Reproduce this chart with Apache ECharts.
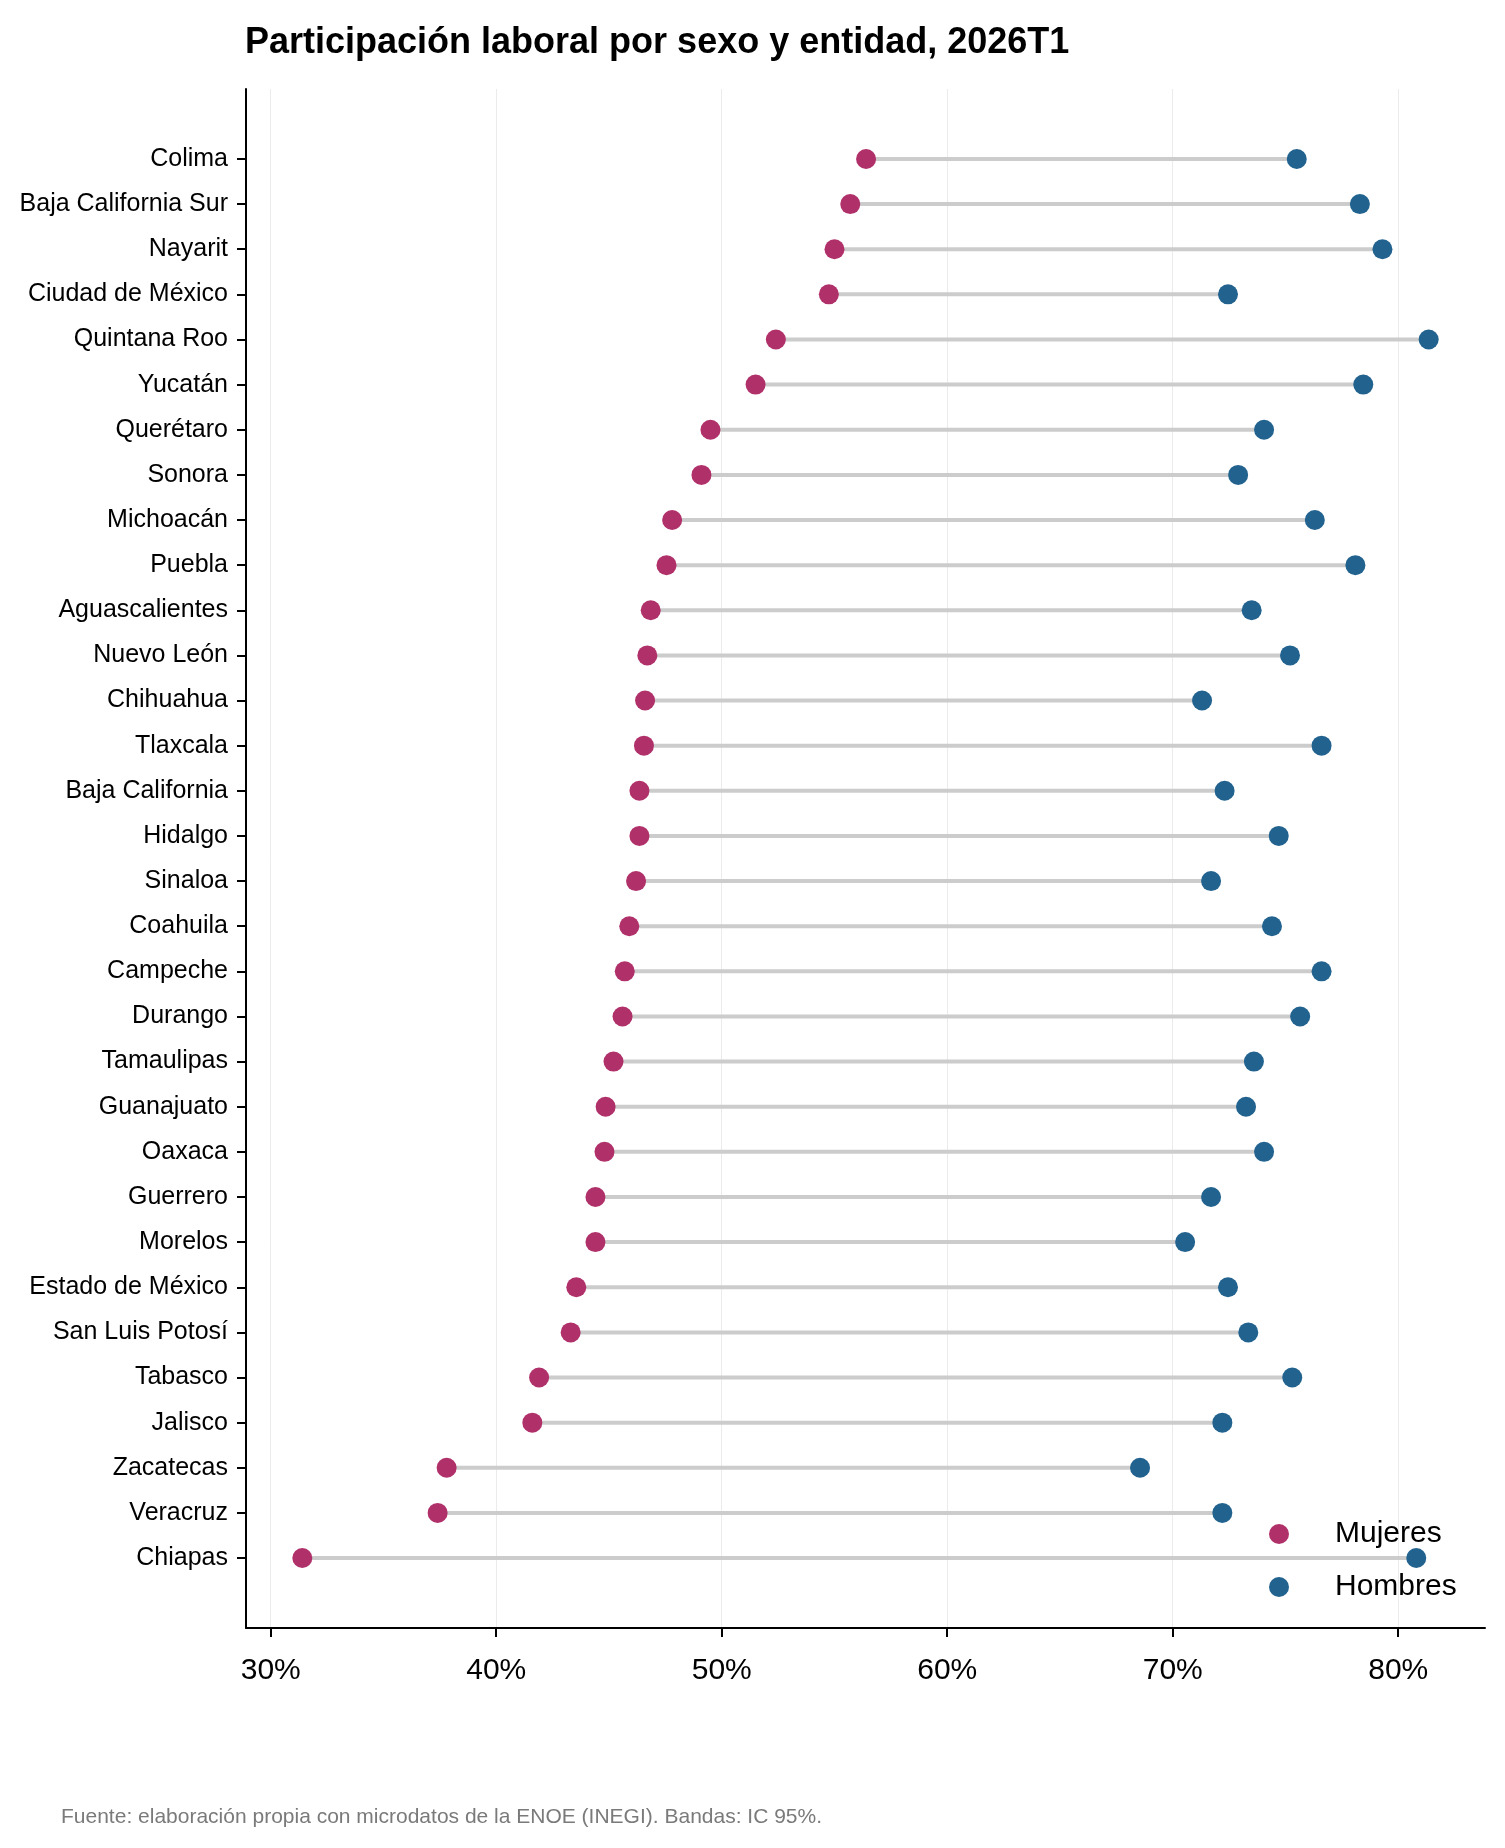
<!DOCTYPE html>
<html>
<head>
<meta charset="utf-8">
<title>Participación laboral por sexo y entidad</title>
<script src="https://cdn.jsdelivr.net/npm/echarts@6/dist/echarts.min.js"></script>
<style>
  html, body { margin: 0; padding: 0; background: #fff; }
  #chart { width: 1505px; height: 1848px; }
</style>
</head>
<body>
<div id="chart"></div>
<script>
// datos (tasa de participación, %)
const estados = [
  'Colima', 'Baja California Sur', 'Nayarit', 'Ciudad de México', 'Quintana Roo',
  'Yucatán', 'Querétaro', 'Sonora', 'Michoacán', 'Puebla', 'Aguascalientes',
  'Nuevo León', 'Chihuahua', 'Tlaxcala', 'Baja California', 'Hidalgo', 'Sinaloa',
  'Coahuila', 'Campeche', 'Durango', 'Tamaulipas', 'Guanajuato', 'Oaxaca',
  'Guerrero', 'Morelos', 'Estado de México', 'San Luis Potosí', 'Tabasco',
  'Jalisco', 'Zacatecas', 'Veracruz', 'Chiapas'
]
const mujeres = [
  56.4, 55.7, 55.0, 54.75, 52.4, 51.5, 49.5, 49.1, 47.8, 47.55, 46.85,
  46.7, 46.6, 46.55, 46.35, 46.35, 46.2, 45.9, 45.7, 45.6, 45.2, 44.85,
  44.8, 44.4, 44.4, 43.55, 43.3, 41.9, 41.6, 37.8, 37.4, 31.4
]
const hombres = [
  75.5, 78.3, 79.3, 72.45, 81.35, 78.45, 74.05, 72.9, 76.3, 78.1, 73.5,
  75.2, 71.3, 76.6, 72.3, 74.7, 71.7, 74.4, 76.6, 75.65, 73.6, 73.25,
  74.05, 71.7, 70.55, 72.45, 73.35, 75.3, 72.2, 68.55, 72.2, 80.8
]
const xTicks = [30, 40, 50, 60, 70, 80]

const FONT = '"Liberation Sans", Arial, Helvetica, sans-serif'
const COLOR_M = '#B0306A'
const COLOR_H = '#21628F'

// márgenes de 5% como en la figura original
let lo = Math.min(...mujeres)
let hi = Math.max(...hombres)
let pad = (hi - lo) * 0.05
let yPad = (estados.length - 1) * 0.05

let lineData = estados.map((e, i) => [mujeres[i], hombres[i], i])
let idx = estados.map((e, i) => i)

let chart = echarts.init(document.getElementById('chart'))
let option = {
  animation: false,
  backgroundColor: '#fff',
  textStyle: { fontFamily: FONT },
  title: [{
    text: 'Participación laboral por sexo y entidad, 2026T1',
    left: 245,
    top: 25,
    padding: 0,
    textStyle: { fontFamily: FONT, fontSize: 36, fontWeight: 'bold', color: '#000' }
  }, {
    text: 'Fuente: elaboración propia con microdatos de la ENOE (INEGI). Bandas: IC 95%.',
    left: 61,
    top: 1807,
    padding: 0,
    textStyle: { fontFamily: FONT, fontSize: 21, fontWeight: 'normal', color: '#7a7a7a' }
  }],
  legend: {
    data: ['Mujeres', 'Hombres'],
    orient: 'vertical',
    left: 1269,
    top: 1519,
    padding: 0,
    icon: 'circle',
    itemWidth: 20,
    itemHeight: 20,
    itemGap: 23,
    textStyle: { fontFamily: FONT, fontSize: 30, color: '#000', lineHeight: 30, padding: [0, 0, 0, 41] }
  },
  grid: { left: 246, right: 20, top: 89, bottom: 220, containLabel: false },
  xAxis: {
    type: 'value',
    min: lo - pad,
    max: hi + pad,
    axisLine: { show: true, onZero: false, lineStyle: { color: '#000', width: 2 } },
    axisTick: { show: true, length: 9, lineStyle: { color: '#000', width: 2 }, customValues: xTicks },
    axisLabel: {
      customValues: xTicks,
      margin: 28,
      fontFamily: FONT,
      fontSize: 30,
      color: '#000',
      formatter: v => v + '%'
    },
    splitLine: { show: true, lineStyle: { color: '#ebebeb', width: 1 } }
  },
  yAxis: {
    type: 'value',
    inverse: true,
    min: -yPad,
    max: estados.length - 1 + yPad,
    axisLine: { show: true, onZero: false, lineStyle: { color: '#000', width: 2 } },
    axisTick: { show: true, length: 9, lineStyle: { color: '#000', width: 2 }, customValues: idx },
    axisLabel: {
      customValues: idx,
      margin: 18,
      fontFamily: FONT,
      fontSize: 25,
      color: '#000',
      formatter: v => estados[Math.round(v)] || ''
    },
    splitLine: { show: false }
  },
  series: [
    {
      name: 'brecha',
      type: 'custom',
      data: lineData,
      encode: { x: [0, 1], y: 2 },
      z: 1,
      renderItem: function (params, api) {
        let a = api.coord([api.value(0), api.value(2)])
        let b = api.coord([api.value(1), api.value(2)])
        return {
          type: 'line',
          shape: { x1: a[0], y1: a[1], x2: b[0], y2: b[1] },
          style: { stroke: '#cccccc', lineWidth: 4 }
        }
      }
    },
    {
      name: 'Mujeres',
      type: 'scatter',
      data: mujeres.map((v, i) => [v, i]),
      symbolSize: 20,
      z: 3,
      itemStyle: { color: COLOR_M, opacity: 1 }
    },
    {
      name: 'Hombres',
      type: 'scatter',
      data: hombres.map((v, i) => [v, i]),
      symbolSize: 20,
      z: 3,
      itemStyle: { color: COLOR_H, opacity: 1 }
    }
  ]
}
chart.setOption(option)
</script>
</body>
</html>
